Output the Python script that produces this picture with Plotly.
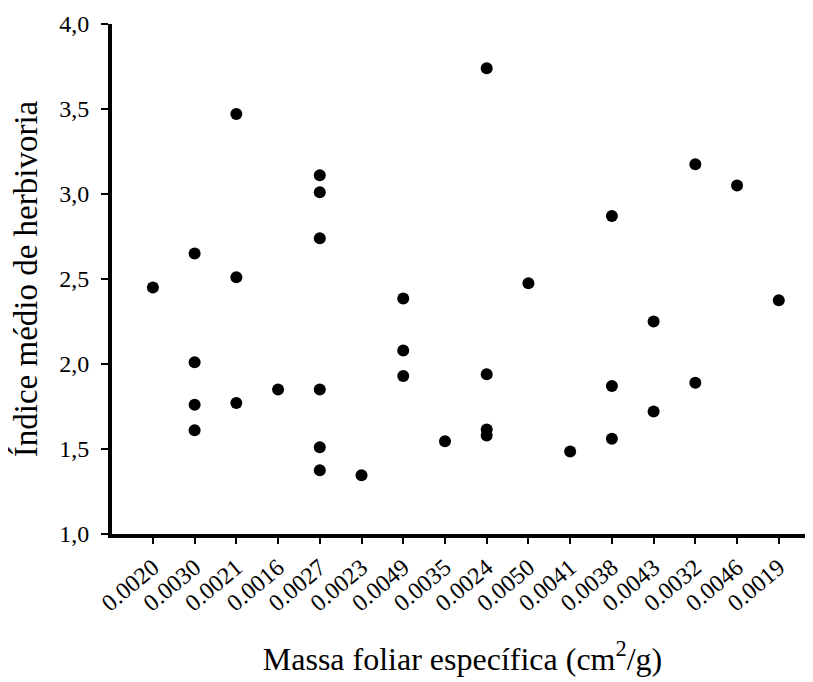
import plotly.graph_objects as go

categories = ["0.0020", "0.0030", "0.0021", "0.0016", "0.0027", "0.0023", "0.0049", "0.0035",
              "0.0024", "0.0050", "0.0041", "0.0038", "0.0043", "0.0032", "0.0046", "0.0019"]

herbivory = {
    "0.0020": [2.45],
    "0.0030": [2.65, 2.01, 1.76, 1.61],
    "0.0021": [3.47, 2.51, 1.77],
    "0.0016": [1.85],
    "0.0027": [3.11, 3.01, 2.74, 1.85, 1.51, 1.375],
    "0.0023": [1.345],
    "0.0049": [2.385, 2.08, 1.93],
    "0.0035": [1.545],
    "0.0024": [3.74, 1.94, 1.615, 1.58],
    "0.0050": [2.475],
    "0.0041": [1.485],
    "0.0038": [2.87, 1.87, 1.56],
    "0.0043": [2.25, 1.72],
    "0.0032": [3.175, 1.89],
    "0.0046": [3.05],
    "0.0019": [2.375],
}

y_ticks = [1.0, 1.5, 2.0, 2.5, 3.0, 3.5, 4.0]

xs, ys = [], []
for c in categories:
    for v in herbivory[c]:
        xs.append(c)
        ys.append(v)

FONT = '"Liberation Serif", "Times New Roman", Times, serif'

fig = go.Figure(go.Scatter(
    x=xs, y=ys, mode="markers",
    marker=dict(color="black", size=12, line=dict(width=0)),
    showlegend=False,
))

fig.update_layout(
    width=805, height=674,
    margin=dict(l=104, r=0, t=16, b=148),
    paper_bgcolor="white", plot_bgcolor="white",
    separators=",.",
    font=dict(family=FONT, color="black", size=24),
)

fig.update_xaxes(
    type="category",
    categoryorder="array", categoryarray=categories,
    range=[-0.98, 15.82],
    showgrid=False, zeroline=False,
    showline=True, linecolor="black", linewidth=4,
    ticks="outside", ticklen=6, tickwidth=1.5, tickcolor="black",
    tickangle=-40, tickfont=dict(size=24, family=FONT),
    title=dict(text="Massa foliar específica (cm<sup>2</sup>/g)",
               font=dict(size=32, family=FONT), standoff=33),
    automargin=False,
)

fig.update_yaxes(
    range=[1.0, 4.0],
    tickvals=y_ticks, tickformat=".1f",
    showgrid=False, zeroline=False,
    showline=True, linecolor="black", linewidth=4,
    ticks="outside", ticklen=7, tickwidth=1.5, tickcolor="black",
    tickfont=dict(size=24, family=FONT), ticklabelstandoff=7,
    title=dict(text="Índice médio de herbivoria",
               font=dict(size=33, family=FONT), standoff=14),
    automargin=False,
)

fig.write_html("out.html")
